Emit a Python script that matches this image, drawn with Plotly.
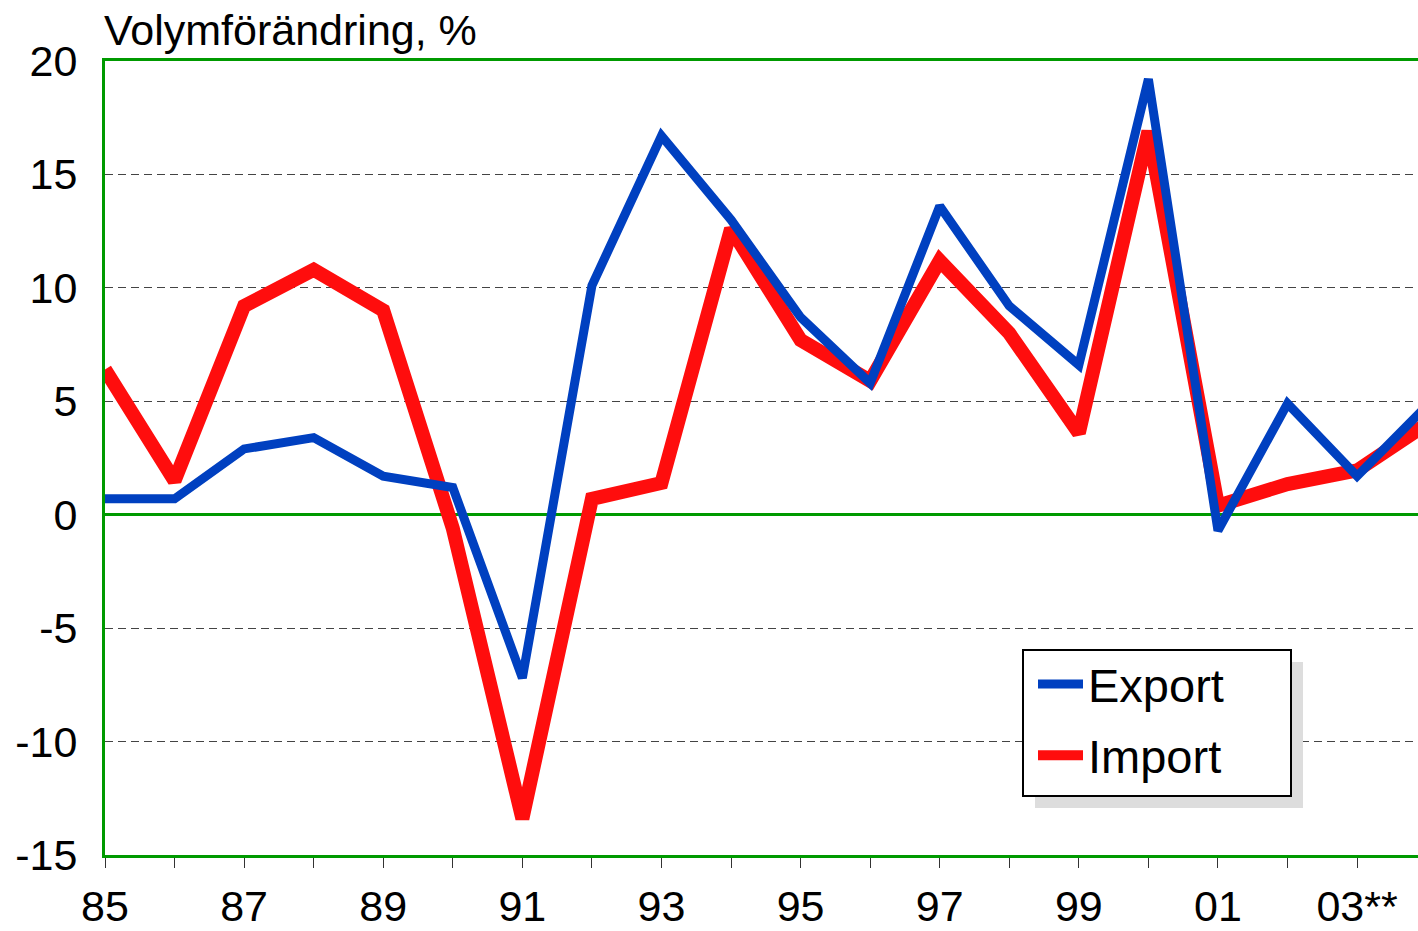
import plotly.graph_objects as go

years = list(range(1985, 2005))
export_vals = [0.7, 0.7, 2.9, 3.4, 1.7, 1.2, -7.2, 10.1, 16.7, 13.0, 8.7, 5.8, 13.6, 9.2, 6.6, 19.2, -0.7, 4.9, 1.7, 4.8]
import_vals = [6.4, 1.5, 9.2, 10.8, 9.0, -0.6, -13.4, 0.7, 1.4, 12.6, 7.7, 5.9, 11.2, 8.0, 3.6, 16.9, 0.4, 1.35, 1.95, 4.0]

tick_years = list(range(1985, 2004))
tick_labels = ["85", "", "87", "", "89", "", "91", "", "93", "", "95", "", "97", "", "99", "", "01", "", "03**"]
major_years = [1985, 1987, 1989, 1991, 1993, 1995, 1997, 1999, 2001, 2003]
y_tickvals = [-15, -10, -5, 0, 5, 10, 15, 20]
y_ticktext = ["-15", "-10", "-5", "0", "5", "10", "15", "20"]

GREEN = "#009a00"
BLUE = "#0040c0"
RED = "#ff0d0d"
FONT = "Liberation Sans, Arial, sans-serif"

W, H = 1418, 931
ML, MR, MT, MB = 105, 0, 61, 76
PW, PH = W - ML - MR, H - MT - MB


def px_x(p):
    return (p - ML) / PW


def px_y(p):
    return (H - MB - p) / PH


fig = go.Figure()
fig.add_trace(go.Scatter(x=years, y=import_vals, mode="lines", name="Import",
                         line=dict(color=RED, width=14), legendrank=2, legendgroup="b"))
fig.add_trace(go.Scatter(x=years, y=export_vals, mode="lines", name="Export",
                         line=dict(color=BLUE, width=9), legendrank=1, legendgroup="a"))

x_end = 1985 + PW / 69.56

shapes = [
    # legend shadow
    dict(type="rect", xref="paper", yref="paper", layer="above",
         x0=px_x(1035), x1=px_x(1303), y0=px_y(808), y1=px_y(662),
         fillcolor="#dddddd", line=dict(width=0)),
    # legend box
    dict(type="rect", xref="paper", yref="paper", layer="above",
         x0=px_x(1023), x1=px_x(1291), y0=px_y(796), y1=px_y(650),
         fillcolor="white", line=dict(color="black", width=2)),
]

fig.update_layout(
    width=W, height=H,
    margin=dict(l=ML, r=MR, t=MT, b=MB, autoexpand=False),
    paper_bgcolor="white", plot_bgcolor="white",
    font=dict(family=FONT, size=43, color="black"),
    showlegend=True,
    legend=dict(
        x=px_x(1033), y=px_y(647), xanchor="left", yanchor="top",
        bgcolor="rgba(0,0,0,0)", borderwidth=0,
        font=dict(size=47, family=FONT, color="black"),
        traceorder="grouped", tracegroupgap=7, itemwidth=45,
    ),
    xaxis=dict(
        range=[1985, x_end], tickvals=tick_years, ticktext=tick_labels,
        ticks="outside", ticklen=10, tickwidth=1, tickcolor="#333333",
        showgrid=False, zeroline=False, automargin=False,
        showline=True, linecolor=GREEN, linewidth=3, mirror=True,
        tickfont=dict(size=43, family=FONT),
        ticklabelstandoff=1,
    ),
    xaxis2=dict(
        range=[1985, x_end], tickvals=major_years, overlaying="x", anchor="y", side="bottom",
        ticks="outside", ticklen=20, tickwidth=1, tickcolor="#333333",
        showticklabels=False, showgrid=False, zeroline=False, showline=False, automargin=False,
    ),
    yaxis=dict(
        range=[-15, 20], tickvals=y_tickvals, ticktext=y_ticktext,
        ticks="", showgrid=True, gridcolor="#444444", gridwidth=1, griddash="8px,5px",
        zeroline=True, zerolinecolor=GREEN, zerolinewidth=3, automargin=False,
        showline=True, linecolor=GREEN, linewidth=3, mirror=False,
        tickfont=dict(size=43, family=FONT),
        ticklabelstandoff=16,
    ),
    shapes=shapes,
    annotations=[dict(
        text="Volymförändring, %", xref="paper", yref="paper", x=0, y=1,
        xanchor="left", yanchor="bottom", showarrow=False, xshift=-3, yshift=5,
        font=dict(size=43, family=FONT, color="black"),
    )],
)

fig.write_html(
    "out.html",
    config={"displayModeBar": False},
    post_script="document.body.style.margin='0';document.documentElement.style.overflow='hidden';",
)
